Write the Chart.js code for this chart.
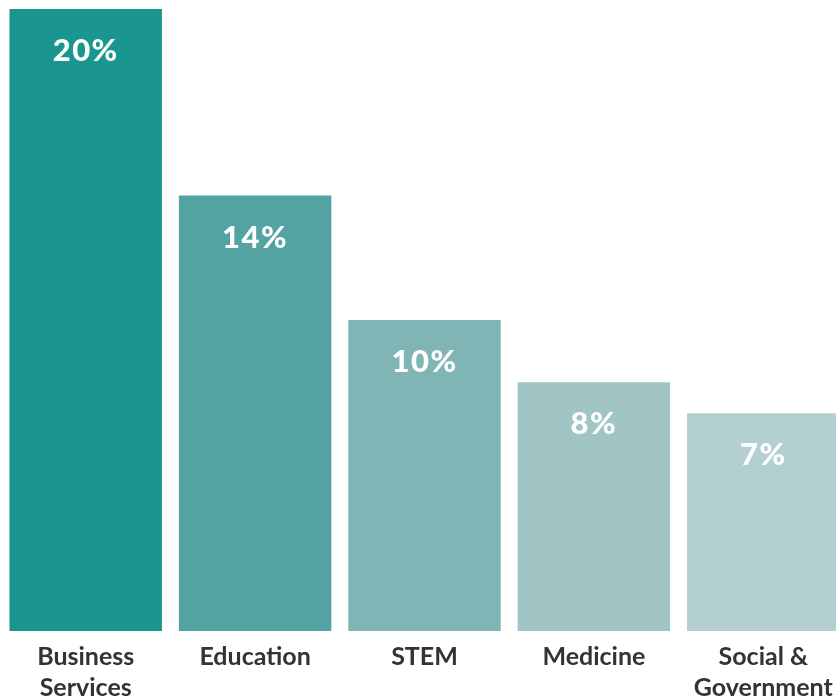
<!DOCTYPE html>
<html>
<head>
<meta charset="utf-8">
<script src="https://cdn.jsdelivr.net/npm/chart.js@4"></script>
<style>
  html, body { margin: 0; padding: 0; background: #ffffff; overflow: hidden; }
  #wrap { position: relative; width: 848px; height: 713px; }
</style>
</head>
<body>
<div id="wrap"><canvas id="chart"></canvas></div>
<script>
// Share of graduates by field
const categories = [["Business", "Services"], "Education", "STEM", "Medicine", ["Social &", "Government"]];
const shares = [20, 14, 10, 8, 7];
const barColors = ["#1b958f", "#53a3a3", "#80b5b6", "#a1c5c5", "#b4cfd0"];

// Writes each bar's value inside the top of the bar
const valueLabels = {
  id: "valueLabels",
  afterDatasetsDraw(chart) {
    const ctx = chart.ctx;
    const meta = chart.getDatasetMeta(0);
    ctx.save();
    ctx.fillStyle = "#ffffff";
    ctx.font = "900 31px Lato";
    ctx.letterSpacing = "1.5px";
    ctx.textAlign = "center";
    ctx.textBaseline = "middle";
    meta.data.forEach((bar, i) => {
      ctx.fillText(shares[i] + "%", bar.x, bar.y + 42);
    });
    ctx.restore();
  }
};

new Chart(document.getElementById("chart"), {
  type: "bar",
  data: {
    labels: categories,
    datasets: [{
      data: shares,
      backgroundColor: barColors,
      borderWidth: 0,
      categoryPercentage: 1,
      barPercentage: 0.9
    }]
  },
  options: {
    responsive: true,
    maintainAspectRatio: false,
    animation: false,
    layout: { padding: { top: 9, left: 1, right: 0, bottom: 0 } },
    plugins: { legend: { display: false }, tooltip: { enabled: false } },
    scales: {
      x: {
        grid: { display: false, drawTicks: false },
        border: { display: false },
        ticks: {
          color: "#333333",
          font: { family: "Lato", size: 25, weight: "bold", lineHeight: 1.24 },
          padding: 10,
          maxRotation: 0,
          autoSkip: false
        }
      },
      y: { display: false, min: 0, max: 20 }
    }
  },
  plugins: [valueLabels]
});
</script>
</body>
</html>
